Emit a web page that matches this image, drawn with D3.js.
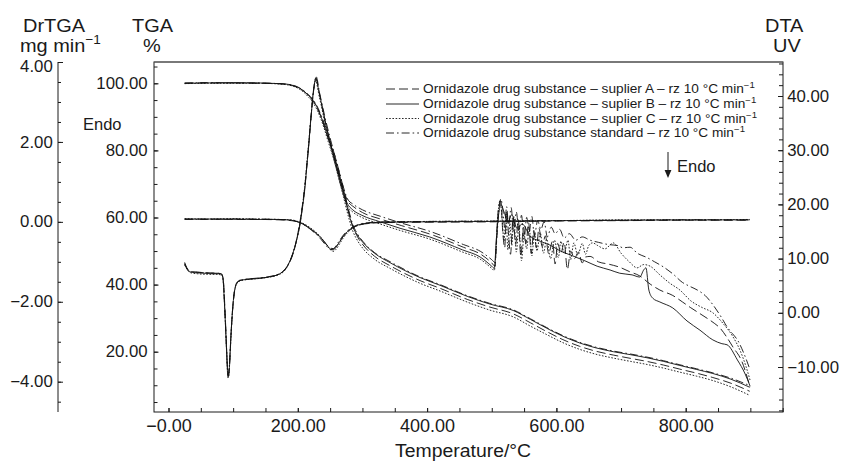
<!DOCTYPE html>
<html><head><meta charset="utf-8">
<script src="https://cdn.jsdelivr.net/npm/d3@7"></script>
<style>
body{margin:0;background:#fff}
text{font-family:"Liberation Sans",Arial,Helvetica,sans-serif;fill:#1a1a1a}
</style>
</head><body>
<svg id="c" width="843" height="463"></svg>
<script>
// ---------------- DATA ----------------
const xTickValues = [0, 200, 400, 600, 800];
const xTickLabels = ["\u22120.00", "200.00", "400.00", "600.00", "800.00"];
const dtgTickValues = [-4, -2, 0, 2, 4];
const tgaTickValues = [20, 40, 60, 80, 100];
const dtaTickValues = [-10, 0, 10, 20, 30, 40];

const legendLabels = [
  "Ornidazole drug substance \u2013 suplier A \u2013 rz 10 \u00B0C min",
  "Ornidazole drug substance \u2013 suplier B \u2013 rz 10 \u00B0C min",
  "Ornidazole drug substance \u2013 suplier C \u2013 rz 10 \u00B0C min",
  "Ornidazole drug substance standard \u2013 rz 10 \u00B0C min"
];

// TGA (%), [temperature °C, value]
const tgaA = [[25,100.1],[60,100.1],[100,100.1],[140,100.0],[170,99.9],[185,99.6],[195,99.1],[203,98.4],[210,97.5],[216,96.4],[223,94.9],[229,93.0],[235,90.4],[241,87.2],[247,83.6],[254,79.8],[262,74.5],[270,68.6],[277,63.0],[285,57.4],[293,54.0],[301,51.8],[319,48.4],[343,45.6],[389,41.2],[420,38.9],[462,35.6],[497,33.3],[533,31.3],[560,28.6],[585,26.0],[610,23.6],[636,21.6],[660,20.2],[688,19.0],[715,18.0],[740,17.1],[766,16.0],[791,14.8],[817,13.6],[842,12.3],[870,10.6],[899,8.2]];
const tgaB = [[25,100.0],[60,100.1],[100,100.2],[140,100.1],[170,99.9],[185,99.7],[195,99.2],[203,98.5],[210,97.6],[216,96.5],[223,95.0],[229,93.2],[235,90.5],[241,87.3],[247,83.6],[254,79.6],[262,74.0],[270,68.0],[277,62.5],[285,57.3],[293,54.5],[301,52.5],[319,49.3],[343,46.5],[389,42.1],[420,39.8],[462,36.5],[497,34.2],[533,32.3],[560,29.6],[585,27.0],[610,24.6],[636,22.6],[660,21.2],[688,20.0],[715,19.1],[740,18.2],[766,17.1],[791,15.9],[817,14.7],[842,13.5],[870,11.8],[899,9.4]];
const tgaC = [[25,99.9],[60,100.0],[100,100.0],[140,100.0],[170,99.8],[185,99.5],[195,99.0],[203,98.2],[210,97.2],[216,96.0],[223,94.4],[229,92.4],[235,89.7],[241,86.4],[247,82.6],[254,78.4],[262,72.8],[270,66.7],[277,61.2],[285,56.0],[293,52.9],[301,50.7],[319,47.5],[343,44.8],[389,40.4],[420,38.1],[462,34.8],[497,32.4],[533,30.4],[560,27.6],[585,25.1],[610,22.7],[636,20.7],[660,19.3],[688,18.1],[715,17.1],[740,16.2],[766,15.1],[791,13.9],[817,12.7],[842,11.4],[870,9.5],[899,7.0]];
const tgaS = [[25,100.0],[60,100.2],[100,100.1],[140,100.1],[170,99.9],[185,99.7],[195,99.3],[203,98.6],[210,97.7],[216,96.7],[223,95.3],[229,93.5],[235,91.0],[241,88.0],[247,84.5],[254,80.6],[262,75.2],[270,69.2],[277,63.5],[285,58.0],[293,54.9],[301,52.8],[319,49.5],[343,46.8],[389,42.3],[420,40.0],[462,36.7],[497,34.4],[533,32.5],[560,29.8],[585,27.2],[610,24.8],[636,22.8],[660,21.4],[688,20.2],[715,19.3],[740,18.4],[766,17.3],[791,16.1],[817,14.9],[842,13.7],[870,12.1],[899,9.9]];

// DrTGA (mg min-1)
const dtgA = [[25,0.06],[60,0.07],[100,0.06],[140,0.06],[170,0.05],[190,0.03],[200,0.0],[207,-0.05],[215,-0.13],[222,-0.21],[229,-0.30],[236,-0.41],[242,-0.52],[247,-0.61],[251,-0.66],[255,-0.67],[259,-0.62],[264,-0.51],[270,-0.37],[277,-0.25],[285,-0.15],[295,-0.08],[310,-0.04],[330,-0.02],[400,-0.01],[500,0.0],[600,0.02],[700,0.03],[800,0.04],[899,0.04]];
const dtgB = [[25,0.07],[60,0.07],[100,0.07],[140,0.06],[170,0.06],[190,0.04],[200,0.0],[207,-0.04],[215,-0.12],[222,-0.20],[229,-0.29],[236,-0.40],[242,-0.52],[247,-0.62],[251,-0.69],[255,-0.70],[259,-0.64],[264,-0.52],[270,-0.37],[277,-0.24],[285,-0.14],[295,-0.07],[310,-0.03],[330,-0.01],[400,0.0],[500,0.01],[600,0.03],[700,0.04],[800,0.05],[899,0.05]];
const dtgC = [[25,0.08],[60,0.07],[100,0.08],[140,0.07],[170,0.06],[190,0.05],[200,0.01],[207,-0.03],[215,-0.10],[222,-0.18],[229,-0.27],[236,-0.39],[242,-0.52],[247,-0.63],[251,-0.71],[255,-0.74],[259,-0.69],[264,-0.57],[270,-0.41],[277,-0.27],[285,-0.16],[295,-0.08],[310,-0.03],[330,-0.01],[400,0.01],[500,0.02],[600,0.03],[700,0.05],[800,0.05],[899,0.06]];
const dtgS = [[25,0.07],[60,0.06],[100,0.07],[140,0.07],[170,0.06],[190,0.04],[200,0.0],[207,-0.05],[215,-0.13],[222,-0.22],[229,-0.32],[236,-0.44],[242,-0.56],[247,-0.65],[251,-0.69],[255,-0.68],[259,-0.60],[264,-0.48],[270,-0.34],[277,-0.22],[285,-0.13],[295,-0.06],[310,-0.02],[330,0.0],[400,0.01],[500,0.02],[600,0.03],[700,0.04],[800,0.05],[899,0.05]];

// DTA (UV)
const dtaA = [[25,9.3],[28,8.4],[33,7.7],[45,7.5],[60,7.4],[75,7.3],[82,7.2],[85,5.8],[87,1.5],[89,-4.0],[91,-9.5],[92.5,-11.6],[94.5,-9.5],[97,-3.5],[99.5,1.0],[102,4.0],[106,5.6],[115,6.1],[130,6.3],[155,6.6],[175,7.4],[184,8.6],[190,10.0],[196,12.3],[200,14.6],[204,17.3],[208,20.6],[212,24.5],[215,28.5],[218,32.4],[220,35.3],[222.5,38.8],[224.5,41.0],[227,42.6],[229,43.0],[231,42.0],[234,40.2],[238,37.8],[244,34.5],[252,30.6],[261,26.6],[270,22.8],[278,20.5],[287,19.5],[300,18.5],[328,17.3],[360,16.1],[405,14.5],[456,12.1],[483,10.8],[500,9.2],[505,8.6],[508,15.5],[511,19.8],[514,20.5],[517,15.0],[520,12.0],[523,18.8],[526,14.5],[529,10.8],[533,17.6],[537,12.6],[541,17.2],[545,10.4],[549,15.8],[553,12.8],[557,16.6],[561,11.0],[565,15.2],[569,12.0],[573,15.6],[578,12.2],[583,14.2],[588,10.9],[594,13.2],[598,9.0],[602,12.8],[607,11.0],[612,13.0],[617,8.0],[622,11.4],[628,10.0],[634,11.2],[640,9.2],[645,10.3],[652,10.4],[665,9.4],[680,9.0],[698,8.4],[713,7.6],[729,6.8],[745,5.3],[760,4.2],[780,3.2],[795,2.0],[807,1.0],[820,0.0],[833,-1.0],[845,-2.0],[853,-2.8],[863,-4.4],[873,-6.3],[887,-9.0],[899.5,-13.7]];
const dtaB = [[25,9.0],[28,8.2],[32,7.6],[41,7.4],[55,7.3],[70,7.2],[80,7.2],[84,6.6],[86,3.0],[88,-2.0],[90,-7.5],[92,-12.0],[94,-10.5],[96,-5.5],[98.5,-0.5],[101,3.0],[104,5.0],[110,6.0],[126,6.2],[150,6.5],[172,7.2],[182,8.3],[188,9.6],[194,11.6],[199,13.8],[203,16.0],[207,19.2],[211,23.0],[214,27.1],[217,31.0],[219,34.1],[221.5,37.5],[223.5,40.2],[226,42.4],[228,43.4],[230,42.6],[232,41.2],[236,39.0],[242,35.5],[250,31.5],[259,27.3],[268,23.2],[276,20.3],[285,19.0],[299,18.0],[327,16.8],[358,15.6],[404,14.0],[455,11.6],[482,10.3],[500,8.6],[504,8.2],[507,13.4],[510,17.5],[514,19.9],[519,18.6],[525,16.8],[531,18.1],[539,15.6],[547,16.4],[559,14.2],[575,13.2],[590,12.5],[606,11.4],[621,10.7],[644,9.6],[663,8.6],[683,7.9],[698,7.3],[717,7.0],[729,6.6],[735,7.9],[738.5,8.3],[743,4.2],[749,2.7],[760,2.0],[780,0.9],[802,-1.5],[822,-3.2],[842,-5.0],[856,-5.7],[864,-5.9],[880,-8.7],[892,-11.3],[899.5,-13.5]];
const dtaC = [[25,8.8],[29,8.0],[34,7.4],[45,7.2],[60,7.1],[75,7.1],[83,6.9],[85.5,4.5],[87.5,-0.5],[89.5,-6.0],[91.5,-11.0],[93,-11.8],[95,-8.0],[97.5,-2.5],[100,2.0],[103,4.5],[108,5.8],[120,6.1],[145,6.4],[170,7.0],[181,8.0],[187,9.3],[193,11.2],[198,13.4],[202,15.6],[206,18.6],[210,22.4],[213,26.3],[216,30.2],[218.5,33.6],[221,37.0],[223,39.6],[225.5,42.0],[227.5,43.1],[229.5,42.2],[232,40.6],[236,38.4],[242,35.0],[250,31.0],[259,26.8],[268,22.7],[276,19.8],[285,18.6],[299,17.6],[327,16.4],[358,15.2],[404,13.6],[455,11.2],[482,9.9],[500,8.2],[504,7.8],[507,12.5],[510,18.6],[513,20.8],[516,17.4],[519,13.2],[522,18.2],[525,11.6],[528,16.5],[531,12.4],[534,17.8],[538,11.2],[542,16.0],[546,9.6],[550,14.4],[554,11.8],[558,15.6],[562,10.5],[566,14.6],[570,11.4],[575,14.8],[580,11.0],[585,13.6],[591,10.0],[597,13.4],[603,10.2],[607,13.2],[612,11.0],[618,13.4],[622,9.8],[627,12.9],[633,10.6],[640,12.8],[645,10.8],[650,12.4],[656,12.9],[664,12.4],[675,11.8],[688,12.9],[700,11.0],[712,9.5],[725,8.3],[735,8.9],[745,8.6],[760,7.0],[775,5.5],[791,4.2],[808,2.2],[825,1.0],[842,0.0],[858,-2.0],[873,-4.4],[885,-7.2],[893,-9.8],[899.5,-12.4]];
const dtaS = [[25,9.1],[28,8.3],[32,7.7],[42,7.5],[55,7.4],[70,7.3],[81,7.3],[84.5,6.2],[86.5,2.0],[88.5,-3.0],[90.5,-8.5],[92,-11.4],[94,-10.0],[96.5,-4.5],[99,0.5],[102,3.8],[105,5.3],[112,6.0],[128,6.3],[152,6.6],[173,7.3],[183,8.5],[189,9.9],[195,12.0],[199.5,14.2],[203.5,16.6],[207.5,20.0],[211.5,24.0],[214.5,28.0],[217.5,32.0],[219.5,35.0],[222,38.3],[224,40.8],[226.5,42.8],[228.5,43.6],[230.5,42.8],[233,41.0],[237,38.8],[243,35.6],[251,31.8],[260,27.8],[269,23.8],[277,21.0],[286,20.0],[300,19.0],[328,17.8],[359,16.6],[405,15.0],[456,12.6],[483,11.3],[500,9.8],[505,9.3],[508,14.0],[511,18.8],[514,21.0],[517,19.2],[520,15.8],[523,19.6],[526,16.2],[530,19.4],[534,14.8],[538,18.6],[542,15.2],[546,18.0],[550,13.6],[554,17.6],[558,15.0],[562,17.8],[566,14.2],[571,17.0],[576,15.4],[581,16.8],[586,14.0],[592,15.8],[598,14.6],[605,15.4],[612,13.8],[620,14.6],[630,13.4],[640,14.0],[652,13.4],[665,13.0],[680,12.6],[695,12.4],[703,12.0],[714,12.1],[725,11.0],[740,10.2],[752,9.4],[765,8.5],[780,7.2],[795,5.6],[806,4.9],[818,4.2],[830,3.2],[842,1.5],[855,-0.8],[864,-2.6],[872,-3.8],[880,-5.0],[890,-7.5],[899.5,-10.5]];

// ---------------- CHART ----------------
const svg = d3.select("#c");
const L = 154, R = 783, T = 62, B = 412;
const x = d3.scaleLinear().domain([0, 800]).range([168.5, 685.7]);
const yTGA = d3.scaleLinear().domain([20, 100]).range([351.7, 83.3]);
const yDTG = d3.scaleLinear().domain([-4, 4]).range([381.7, 62]);
const yDTA = d3.scaleLinear().domain([-10, 40]).range([367, 96]);
const fmt = d3.format(".2f");
const ink = "#1a1a1a";

function styleAxis(g, fs, sx) {
  g.select(".domain").remove();
  g.selectAll("line").attr("stroke", ink).attr("stroke-width", 1);
  g.selectAll("text").attr("fill", ink).attr("font-size", fs)
    .attr("font-family", '"Liberation Sans",Arial,sans-serif')
    .attr("transform", sx ? `scale(${sx},1)` : null);
}
function range(a, b, s) { const r = []; for (let v = a; v <= b + 1e-9; v += s) r.push(+v.toFixed(4)); return r; }

// frame
svg.append("rect").attr("x", L).attr("y", T).attr("width", R - L).attr("height", B - T)
  .attr("fill", "none").attr("stroke", ink).attr("stroke-width", 1);
svg.append("line").attr("x1", L).attr("x2", R).attr("y1", T).attr("y2", T).attr("stroke", "#666").attr("stroke-width", 1.2);
// separate DrTGA axis line
svg.append("line").attr("x1", 58).attr("x2", 58).attr("y1", T).attr("y2", B).attr("stroke", ink);

// DrTGA axis
svg.append("g").attr("transform", "translate(58,0)")
  .call(d3.axisLeft(yDTG).tickValues(range(-4.5, 4, 0.5)).tickSize(-3).tickFormat(""))
  .call(g => styleAxis(g, 16));
svg.append("g").attr("transform", "translate(58,0)")
  .call(d3.axisLeft(yDTG).tickValues(dtgTickValues).tickSize(-5).tickPadding(5).tickFormat(fmt))
  .call(g => styleAxis(g, 16, 1.05))
  .call(g => g.selectAll(".tick").filter(d => d === 4).select("text").attr("dy", "0.6em"));

// TGA axis
svg.append("g").attr("transform", `translate(${L},0)`)
  .call(d3.axisLeft(yTGA).tickValues(range(5, 105, 5)).tickSize(-3.5).tickFormat(""))
  .call(g => styleAxis(g, 16));
svg.append("g").attr("transform", `translate(${L},0)`)
  .call(d3.axisLeft(yTGA).tickValues(tgaTickValues).tickSize(-4.5).tickPadding(6).tickFormat(fmt))
  .call(g => styleAxis(g, 16, 1.05));

// DTA axis
svg.append("g").attr("transform", `translate(${R},0)`)
  .call(d3.axisRight(yDTA).tickValues(range(-18, 46, 2)).tickSize(-4).tickFormat(""))
  .call(g => styleAxis(g, 16));
svg.append("g").attr("transform", `translate(${R},0)`)
  .call(d3.axisRight(yDTA).tickValues(dtaTickValues).tickSize(-5).tickPadding(4).tickFormat(fmt))
  .call(g => styleAxis(g, 16, 1.05));

// X axis
svg.append("g").attr("transform", `translate(0,${B})`)
  .call(d3.axisBottom(x).tickValues(range(0, 950, 50)).tickSize(-4).tickFormat(""))
  .call(g => styleAxis(g, 18));
svg.append("g").attr("transform", `translate(0,${B})`)
  .call(d3.axisBottom(x).tickValues(xTickValues).tickSize(-4).tickPadding(7).tickFormat((d, i) => xTickLabels[i]))
  .call(g => styleAxis(g, 18));

// titles
function title(tx, ty, main, sup, fs) {
  const t = svg.append("text").attr("transform", `translate(${tx},${ty}) scale(1.05,1)`)
    .attr("font-size", fs).attr("fill", ink).text(main);
  if (sup) t.append("tspan").attr("font-size", fs * 0.68).attr("dy", -fs * 0.42).text(sup);
  return t;
}
title(23, 32, "DrTGA", null, 19);
title(20, 52, "mg min", "\u22121", 19);
title(132, 32, "TGA", null, 19);
title(143, 52, "%", null, 19);
title(765, 32, "DTA", null, 19);
title(773, 52, "UV", null, 19);
title(395, 457, "Temperature/\u00B0C", null, 18.5);

svg.append("text").attr("x", 83).attr("y", 130).attr("font-size", 16.5).attr("fill", ink).text("Endo");
svg.append("text").attr("x", 677).attr("y", 172).attr("font-size", 16.5).attr("fill", ink).text("Endo");
svg.append("line").attr("x1", 668).attr("x2", 668).attr("y1", 152).attr("y2", 171).attr("stroke", ink).attr("stroke-width", 1);
svg.append("path").attr("d", "M664.6,170 L671.4,170 L668,178 Z").attr("fill", ink);

// curves
const dashes = ["9,4", null, "1.6,1.6", "8,3,1.6,3"];
const groups = [
  {scale: yTGA, series: [tgaA, tgaB, tgaC, tgaS]},
  {scale: yDTG, series: [dtgA, dtgB, dtgC, dtgS]},
  {scale: yDTA, series: [dtaA, dtaB, dtaC, dtaS]}
];
groups.forEach(gr => {
  const ln = d3.line().x(d => x(d[0])).y(d => gr.scale(d[1])).curve(d3.curveMonotoneX);
  gr.series.forEach((s, i) => {
    svg.append("path").attr("d", ln(s)).attr("fill", "none").attr("stroke", "#111")
      .attr("stroke-width", 0.9).attr("stroke-dasharray", dashes[i]);
  });
});

// legend
const legY = [93, 108, 122.5, 137];
legendLabels.forEach((lab, i) => {
  svg.append("line").attr("x1", 386).attr("x2", 419).attr("y1", legY[i] - 4).attr("y2", legY[i] - 4)
    .attr("stroke", "#111").attr("stroke-width", 0.9).attr("stroke-dasharray", dashes[i]);
  const t = svg.append("text").attr("transform", `translate(423,${legY[i]}) scale(1.14,1)`)
    .attr("font-size", 12).attr("fill", ink).text(lab);
  t.append("tspan").attr("font-size", 8.5).attr("dy", -5).text("\u22121");
});
</script>
</body></html>
